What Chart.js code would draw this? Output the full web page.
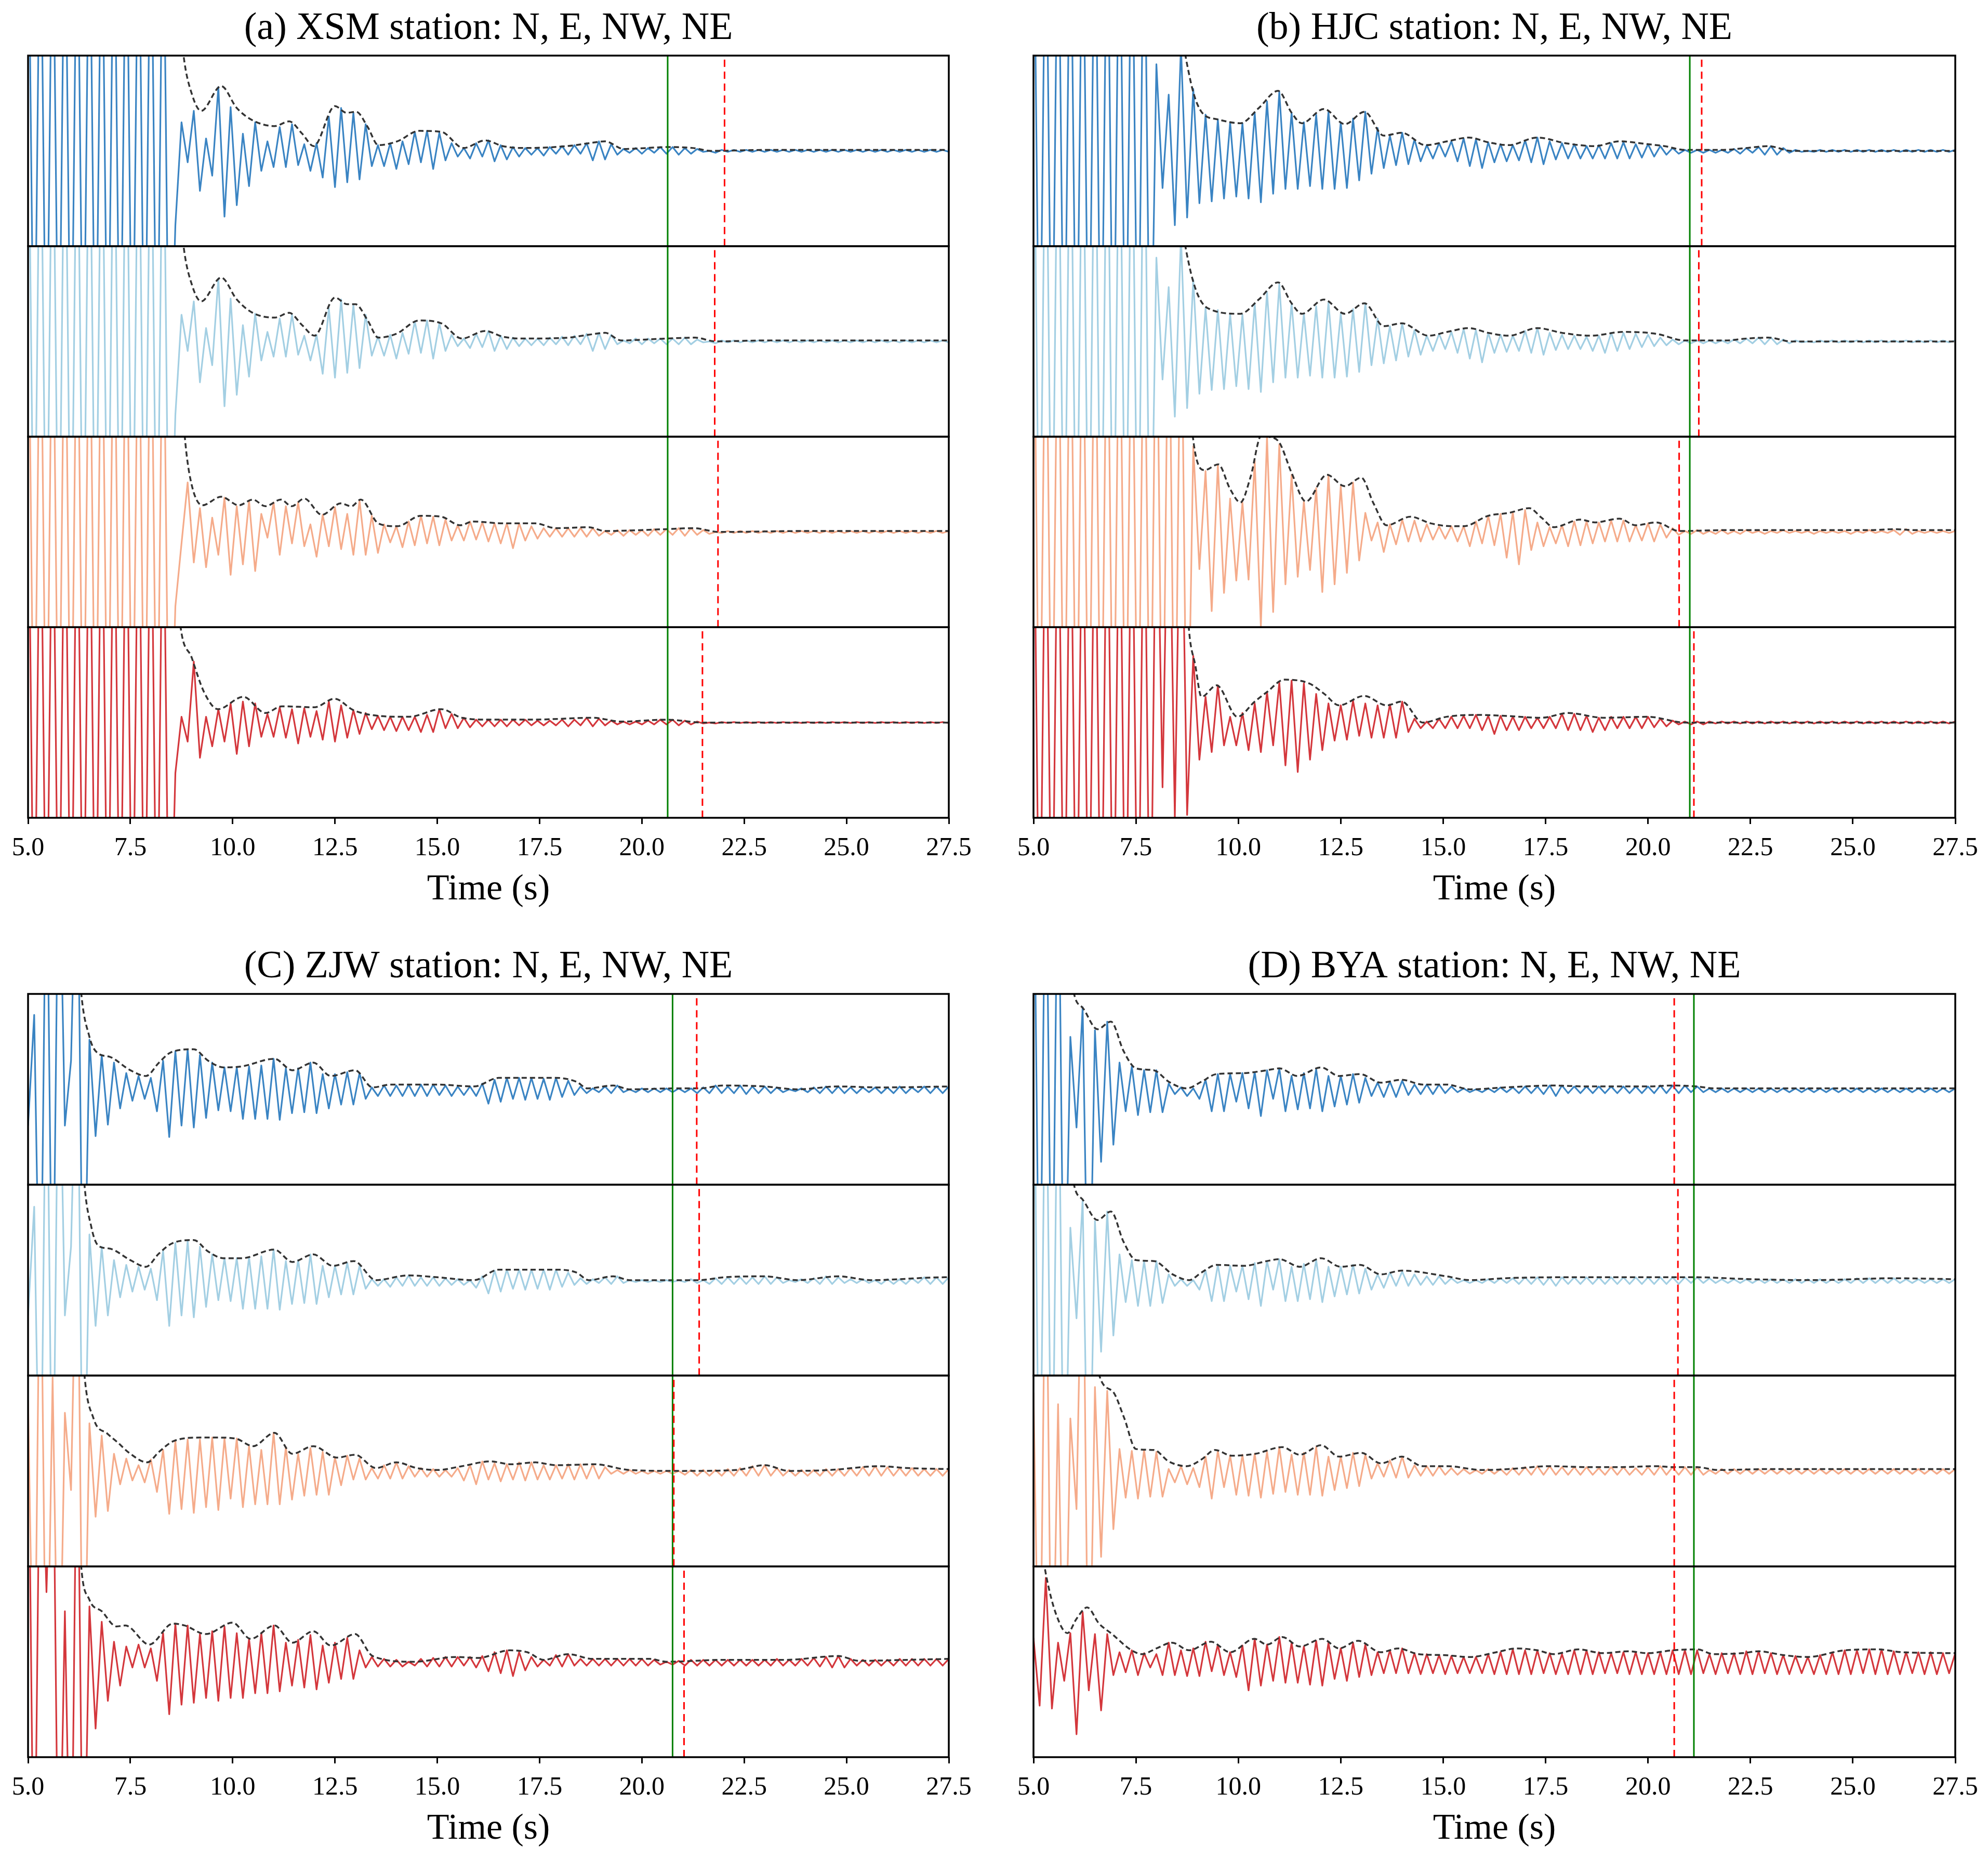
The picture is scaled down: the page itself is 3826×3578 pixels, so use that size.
<!DOCTYPE html>
<html>
<head>
<meta charset="utf-8">
<script src="https://cdn.jsdelivr.net/npm/chart.js@4.4.1/dist/chart.umd.min.js"></script>
<style>
  html, body { margin: 0; padding: 0; background: #fff; }
  #wrap { position: relative; width: 3826px; height: 3578px; }
  .panel { position: absolute; width: 1913px; height: 1789px; }
</style>
</head>
<body>
<div id="wrap">
  <div class="panel" style="left:0;top:0"><canvas id="pa" width="1913" height="1789"></canvas></div>
  <div class="panel" style="left:1913px;top:0"><canvas id="pb" width="1913" height="1789"></canvas></div>
  <div class="panel" style="left:0;top:1789px"><canvas id="pc" width="1913" height="1789"></canvas></div>
  <div class="panel" style="left:1913px;top:1789px"><canvas id="pd" width="1913" height="1789"></canvas></div>
</div>
<script>
// waveforms: one value per 0.15 s starting at 5.0 s, in % of half the trace height
const T0 = 5.0;
const STEP = 0.15;
const xTicks = [5.0, 7.5, 10.0, 12.5, 15.0, 17.5, 20.0, 22.5, 25.0, 27.5];

// (a) XSM
const xsmN = [
  300,-300,300,-300,300,-300,300,-300,300,-300,
  300,-300,300,-300,300,-300,300,-300,300,-300,
  300,-300,300,-300,-78,30,-12,42,-42,13,
  -26,67,-69,46,-57,18,-37,30,-21,10,
  -17,25,-17,28,-15,7,-21,8,-28,36,
  -38,45,-33,40,-30,28,-16,6,-16,8,
  -19,10,-14,20,-12,21,-19,19,-10,8,
  -6,3,-8,8,-6,11,-11,6,-9,4,
  -6,3,-4,3,-5,4,-3,5,-4,6,
  -3,8,-10,10,-9,7,-4,2,-2,3,
  -3,3,-2,4,-3,4,-4,3,-3,2,
  -1,0,-2,1,-1,1,-1,1,-1,1,
  -1,1,-1,1,-1,1,-1,1,-1,1,
  -1,1,-1,1,-1,1,-1,1,-1,1,
  -1,1,-1,1,-1,1,-1,1,-1,1,
  -1
];
const xsmE = [
  300,-300,300,-300,300,-300,300,-300,300,-300,
  300,-300,300,-300,300,-300,300,-300,300,-300,
  300,-300,300,-300,-77,28,-10,42,-43,14,
  -25,66,-68,45,-56,17,-37,29,-20,10,
  -16,24,-16,28,-14,6,-20,7,-34,35,
  -38,44,-33,38,-28,28,-15,5,-15,7,
  -18,9,-13,21,-12,22,-18,19,-10,7,
  -5,3,-7,8,-6,11,-10,6,-8,4,
  -5,3,-4,3,-4,4,-3,5,-4,6,
  -3,8,-10,9,-8,7,-3,1,-2,3,
  -3,3,-2,3,-3,3,-3,4,-3,2,
  -1,0,-2,1,-1,1,-1,1,-1,1,
  -1,1,-1,1,-1,1,-1,1,-1,1,
  -1,1,-1,1,-1,1,-1,1,-1,1,
  -1,1,-1,1,-1,1,-1,1,-1,1,
  -1
];
const xsmNW = [
  300,-300,300,-300,300,-300,300,-300,300,-300,
  300,-300,300,-300,300,-300,300,-300,300,-300,
  300,-300,300,-300,-78,-12,52,-32,25,-37,
  15,-24,36,-45,27,-34,33,-41,19,-6,
  31,-24,27,-12,31,-15,8,-26,18,-15,
  26,-18,19,-24,33,-24,17,-22,8,-11,
  6,-16,11,-14,17,-12,16,-14,13,-9,
  7,-9,11,-8,10,-10,9,-12,9,-17,
  9,-9,6,-7,4,-5,4,-5,4,-5,
  4,-5,4,-4,1,-3,2,-4,2,-3,
  2,-4,3,-3,3,-3,4,-4,4,-3,
  2,-2,0,-1,1,-1,1,-1,1,-1,
  1,-1,1,-1,1,-1,1,-1,1,-1,
  1,-1,1,-1,1,-1,1,-1,1,-1,
  1,-1,1,-1,1,-1,1,-1,1,-1,
  1
];
const xsmNE = [
  300,-300,300,-300,300,-300,300,-300,300,-300,
  300,-300,300,-300,300,-300,300,-300,300,-300,
  300,-300,300,-300,-53,6,-20,64,-37,6,
  -25,14,-20,20,-33,22,-25,20,-15,9,
  -15,16,-16,14,-22,15,-15,12,-18,22,
  -20,18,-16,13,-12,10,-7,7,-8,6,
  -9,6,-8,6,-10,8,-10,14,-6,9,
  -6,5,-5,3,-4,3,-4,3,-4,3,
  -3,3,-3,2,-3,2,-3,3,-4,3,
  -3,5,-4,4,-3,2,-2,1,-2,1,
  -2,2,-2,3,-2,3,-3,2,-2,1,
  -1,0,-1,0.5,-0.5,0.5,-0.5,0.5,-0.5,0.5,
  -0.5,0.5,-0.5,0.5,-0.5,0.5,-0.5,0.5,-0.5,0.5,
  -0.5,0.5,-0.5,0.5,-0.5,0.5,-0.5,0.5,-0.5,0.5,
  -0.5,0.5,-0.5,0.5,-0.5,0.5,-0.5,0.5,-0.5,0.5,
  -0.5
];

// (b) HJC
const hjcN = [
  300,-300,300,-300,300,-300,300,-300,300,-300,
  300,-300,300,-300,300,-300,300,-300,300,-300,
  91,-39,59,-78,110,-70,65,-55,38,-53,
  33,-50,30,-48,29,-50,40,-54,52,-45,
  62,-40,40,-40,30,-37,38,-40,41,-40,
  30,-39,34,-31,41,-24,24,-18,16,-15,
  19,-14,12,-11,6,-8,8,-6,10,-11,
  13,-16,12,-18,9,-12,7,-11,6,-10,
  11,-12,14,-14,10,-9,8,-8,7,-8,
  5,-8,6,-8,8,-8,9,-8,7,-7,
  7,-6,5,-4,3,-3,1,-2,1,-2,
  1,-2,1,-2,2,-3,3,-2,4,-4,
  5,-4,3,-2,1,-1,0,-1,1,-1,
  1,-1,1,-1,1,-1,1,-1,1,-1,
  1,-1,1,-1,1,-1,1,-1,1,-1,
  1
];
const hjcE = [
  300,-300,300,-300,300,-300,300,-300,300,-300,
  300,-300,300,-300,300,-300,300,-300,300,-300,
  88,-40,57,-79,110,-70,65,-55,35,-51,
  33,-50,29,-47,28,-50,40,-53,52,-43,
  60,-38,40,-38,29,-36,37,-38,41,-38,
  29,-37,34,-32,40,-25,24,-23,16,-20,
  19,-16,12,-14,6,-10,8,-8,10,-12,
  13,-18,12,-22,9,-12,7,-11,6,-10,
  11,-12,14,-14,9,-9,7,-8,6,-8,
  5,-10,6,-12,9,-10,9,-8,8,-6,
  7,-5,4,-4,2,-3,1,-2,1,-2,
  1,-2,1,-2,2,-2,3,-2,4,-3,
  4,-3,2,-2,1,-1,0,-1,1,-1,
  1,-1,1,-1,1,-1,1,-1,1,-1,
  1,-1,1,-1,1,-1,1,-1,1,-1,
  1
];
const hjcNW = [
  300,-300,300,-300,300,-300,300,-300,300,-300,
  300,-300,300,-300,300,-300,300,-300,300,-300,
  300,-300,300,-300,300,-300,90,-39,64,-83,
  71,-64,35,-51,31,-50,75,-99,100,-84,
  92,-55,60,-47,32,-40,46,-63,60,-55,
  48,-43,52,-30,20,-9,10,-21,8,-13,
  13,-10,12,-10,8,-8,6,-7,6,-10,
  6,-15,11,-12,17,-14,19,-27,21,-34,
  23,-19,10,-15,5,-12,7,-15,11,-14,
  11,-12,10,-10,12,-10,12,-10,7,-9,
  9,-10,8,-6,4,-3,1,-2,2,-2,
  1,-2,2,-2,1,-2,2,-1,1,-2,
  1,-1,2,-1,1,-1,1,-2,1,-1,
  1,-1,1,-2,1,-1,2,-1,1,-1,
  2,-3,3,-2,1,-1,1,-1,1,-1,
  1
];
const hjcNE = [
  300,-300,300,-300,300,-300,300,-300,300,-300,
  300,-300,300,-300,300,-300,300,-300,300,-300,
  300,-68,300,-100,300,-97,70,-39,27,-31,
  39,-24,6,-24,10,-29,20,-31,32,-24,
  42,-45,44,-52,41,-39,30,-29,20,-19,
  18,-18,23,-14,20,-16,18,-16,19,-16,
  22,-10,4,-6,1,-6,4,-6,6,-6,
  7,-6,8,-8,7,-12,7,-8,6,-8,
  6,-6,5,-6,6,-6,9,-8,9,-8,
  7,-10,5,-8,6,-6,6,-6,6,-6,
  6,-5,4,-4,2,-2,1,-2,1,-2,
  1,-1,1,-1,1,-1,1,-1,1,-1,
  1,-1,1,-1,1,-1,1,-1,1,-1,
  1,-1,1,-1,1,-1,1,-1,1,-1,
  1,-1,1,-1,1,-1,1,-1,1,-1,
  1
];

// (C) ZJW
const zjwN = [
  -38,78,-300,300,-300,300,-38,30,300,-300,
  52,-49,36,-37,28,-20,17,-12,14,-10,
  12,-23,30,-50,40,-38,42,-40,36,-30,
  28,-22,23,-23,23,-31,24,-31,25,-31,
  32,-32,22,-25,22,-24,28,-25,16,-20,
  16,-16,18,-16,17,-10,2,-7,4,-7,
  4,-7,5,-7,5,-7,5,-6,4,-7,
  3,-6,3,-7,6,-15,10,-13,12,-10,
  12,-11,12,-10,11,-11,12,-8,9,-6,
  3,-4,1,-3,3,-4,4,-3,0,-3,
  1,-3,1,-3,1,-3,1,-3,1,-4,
  2,-4,4,-4,3,-4,4,-5,3,-4,
  3,-4,2,-3,0,-2,1,-3,2,-4,
  3,-4,3,-4,2,-4,2,-3,2,-4,
  2,-4,3,-4,2,-3,3,-4,3,-4,
  3
];
const zjwE = [
  -37,77,-300,300,-300,300,-37,35,300,-300,
  48,-48,35,-37,21,-18,16,-12,14,-10,
  12,-21,31,-48,39,-37,41,-39,35,-28,
  27,-21,23,-22,23,-30,24,-30,25,-30,
  32,-31,20,-25,21,-24,27,-25,15,-18,
  15,-15,18,-15,15,-9,1,-6,1,-7,
  3,-6,5,-6,3,-6,3,-6,2,-5,
  1,-5,0,-8,4,-14,10,-12,11,-9,
  11,-10,11,-9,11,-10,11,-7,8,-5,
  2,-4,1,-3,3,-4,4,-3,0,-2,
  0,-2,0,-2,0,-2,0,-2,1,-3,
  0,-4,2,-4,3,-4,3,-4,3,-4,
  4,-4,3,-3,0,-2,1,-3,2,-4,
  4,-4,3,-3,1,-3,1,-3,0,-4,
  1,-4,1,-4,2,-3,3,-4,3,-4,
  3
];
const zjwNW = [
  74,-300,300,-300,98,-300,61,-20,300,-300,
  50,-48,37,-42,18,-14,13,-10,6,-12,
  12,-22,22,-45,31,-40,33,-44,33,-38,
  35,-41,34,-29,34,-38,26,-35,22,-35,
  40,-35,25,-30,18,-26,24,-25,20,-25,
  14,-15,16,-9,13,-9,3,-8,6,-8,
  9,-8,5,-6,3,-6,2,-6,1,-6,
  3,-10,6,-14,10,-9,8,-11,7,-9,
  9,-10,9,-9,6,-9,6,-8,7,-9,
  7,-8,7,-8,4,-3,1,-3,1,-3,
  0,-3,0,-3,0,-3,0,-4,1,-5,
  1,-5,1,-5,2,-5,3,-5,5,-5,
  6,-5,3,-5,1,-5,1,-5,1,-5,
  2,-5,2,-5,3,-5,4,-5,5,-5,
  4,-5,3,-5,3,-5,2,-5,2,-5,
  2
];
const zjwNE = [
  300,-300,300,73,300,-300,53,-300,300,-300,
  58,-70,42,-41,21,-25,16,-6,18,-6,
  14,-20,30,-55,40,-45,38,-43,29,-38,
  32,-41,37,-38,30,-38,24,-33,30,-33,
  38,-31,20,-25,23,-27,28,-29,17,-22,
  20,-18,25,-18,12,-6,5,-5,3,-5,
  2,-5,0,-4,3,-5,4,-5,5,-5,
  5,-4,5,-6,6,-10,10,-12,12,-15,
  10,-9,5,-5,2,-4,7,-5,8,-4,
  3,-4,3,-4,3,-4,3,-4,3,-4,
  3,-4,2,-3,0,-3,1,-4,2,-4,
  2,-4,2,-4,2,-4,2,-4,2,-4,
  2,-4,3,-4,2,-4,3,-4,4,-5,
  5,-6,6,-6,3,-4,2,-4,2,-4,
  2,-4,3,-4,3,-4,3,-4,3,-4,
  3
];

// (D) BYA
const byaN = [
  300,-300,300,-300,300,-300,55,-40,86,-300,
  62,-76,71,-58,28,-23,24,-27,20,-24,
  20,-24,6,-5,2,-7,1,-10,10,-23,
  16,-23,16,-13,17,-20,18,-28,20,-10,
  22,-23,14,-21,17,-20,21,-23,14,-18,
  14,-16,16,-14,12,-7,7,-8,8,-8,
  9,-6,5,-5,5,-5,5,-4,3,-3,
  1,-3,0,-3,1,-3,2,-3,2,-4,
  3,-4,3,-5,4,-7,4,-4,3,-4,
  3,-4,3,-4,3,-4,3,-4,3,-4,
  3,-4,4,-4,4,-4,4,-3,3,-3,
  1,-3,1,-3,1,-3,1,-3,1,-3,
  1,-3,1,-3,1,-3,1,-3,1,-3,
  1,-3,1,-3,1,-3,1,-3,1,-3,
  1,-3,1,-3,1,-3,1,-3,1,-3,
  1
];
const byaE = [
  300,-300,300,-300,300,-300,55,-40,85,-300,
  62,-75,72,-58,27,-23,21,-27,20,-27,
  20,-24,6,-6,1,-6,0,-10,10,-22,
  16,-22,15,-12,15,-20,18,-27,20,-10,
  22,-22,14,-22,17,-20,21,-23,14,-17,
  14,-15,16,-14,12,-10,6,-8,8,-6,
  9,-6,6,-5,4,-5,4,-4,2,-3,
  0,-3,0,-3,1,-3,2,-3,2,-4,
  3,-4,3,-5,3,-6,3,-4,3,-4,
  3,-4,3,-4,3,-4,3,-4,3,-4,
  3,-4,3,-4,3,-4,3,-3,3,-3,
  2,-3,1,-3,1,-3,1,-3,1,-3,
  1,-3,1,-3,1,-3,1,-3,1,-3,
  1,-3,1,-3,2,-3,2,-3,2,-3,
  2,-3,1,-3,1,-3,1,-3,1,-3,
  1
];
const byaNW = [
  82,-300,300,-300,70,-300,55,-40,300,-300,
  88,-90,84,-61,23,-28,21,-29,22,-27,
  20,-27,2,-12,5,-14,3,-17,15,-29,
  21,-17,16,-25,17,-26,18,-28,20,-24,
  25,-22,17,-25,19,-25,25,-26,15,-20,
  15,-18,19,-16,17,-8,8,-6,11,-7,
  15,-7,6,-5,5,-5,5,-4,3,-4,
  2,-3,1,-3,2,-3,2,-4,3,-4,
  4,-4,5,-4,5,-4,4,-4,4,-4,
  4,-4,3,-4,4,-4,4,-4,3,-4,
  4,-4,5,-4,4,-4,4,-4,4,-4,
  1,-3,2,-3,2,-3,2,-3,2,-3,
  2,-3,2,-3,2,-3,2,-3,2,-3,
  2,-3,2,-3,2,-3,2,-3,2,-3,
  2,-3,2,-3,2,-3,2,-3,2,-3,
  2
];
const byaNE = [
  25,-46,88,-49,20,-20,30,-76,52,-30,
  29,-51,29,-14,10,-11,12,-14,9,-6,
  8,-14,20,-14,12,-15,14,-15,21,-10,
  18,-14,10,-16,17,-30,24,-25,18,-20,
  26,-22,20,-22,16,-24,22,-25,20,-18,
  14,-20,20,-16,18,-14,10,-12,12,-12,
  14,-12,9,-13,8,-12,7,-13,6,-12,
  5,-12,5,-12,8,-13,10,-13,13,-13,
  12,-13,12,-12,9,-13,8,-13,12,-13,
  12,-13,10,-12,9,-12,10,-13,10,-13,
  9,-13,10,-13,12,-13,12,-13,12,-12,
  8,-13,9,-12,9,-13,11,-13,11,-12,
  9,-13,7,-13,6,-12,5,-13,7,-13,
  10,-13,12,-13,12,-12,13,-13,13,-13,
  11,-13,10,-12,10,-13,10,-13,9,-12,
  9
];

// envelopes: [time s, %]
const envXsmN = [[8.55,220],[8.8,100],[9.0,60],[9.23,42],[9.72,68],[10.1,45],[10.49,32],[11.03,26],[11.38,31],[11.7,18],[11.98,5],[12.5,47],[12.78,40],[13.02,41],[13.3,25],[13.56,6],[14.02,10],[14.56,21],[15.1,20],[15.64,3],[16.17,11],[16.6,5],[17.1,3],[18.17,5],[18.7,8],[19.1,10],[19.56,2],[20.1,3],[20.63,4],[21.25,3],[21.7,0],[23,1],[25,1],[27.5,1]];
const envXsmE = [[8.55,220],[8.8,100],[9.0,60],[9.23,42],[9.72,67],[10.1,44],[10.49,30],[11.03,25],[11.38,30],[11.7,17],[12.0,6],[12.5,46],[12.8,39],[13.0,39],[13.3,22],[13.56,4],[14.0,8],[14.56,22],[15.1,19],[15.6,3],[16.17,11],[16.6,5],[17.1,3],[18.2,4],[18.7,7],[19.1,9],[19.5,1],[20.1,2],[20.6,3],[21.3,4],[21.8,0],[23,1],[25,1],[27.5,1]];
const envXsmNW = [[8.6,250],[8.83,100],[8.97,55],[9.26,28],[9.72,37],[10.15,28],[10.49,34],[10.8,27],[11.18,34],[11.44,27],[11.75,35],[12.18,18],[12.64,30],[12.9,27],[13.13,34],[13.56,9],[14.02,6],[14.6,17],[15.1,16],[15.56,7],[15.87,11],[16.6,9],[17.4,9],[17.9,4],[18.7,5],[19.1,1],[20.0,2],[20.6,3],[21.25,4],[21.9,0],[24,1],[27.5,1]];
const envXsmNE = [[8.5,250],[8.7,110],[9.0,68],[9.3,32],[9.64,14],[10.26,27],[10.8,10],[11.2,17],[12.0,16],[12.49,25],[12.95,13],[13.56,7],[14.3,6],[15.1,14],[15.6,5],[16.3,3],[17.3,3],[18.8,5],[19.5,1],[20.6,3],[21.5,0],[27.5,0]];

const envHjcN = [[8.45,250],[8.6,140],[8.8,80],[9.1,41],[9.5,33],[10.05,29],[10.5,45],[10.97,63],[11.3,40],[11.55,29],[12.09,44],[12.6,28],[13.08,41],[13.55,16],[13.99,19],[14.57,6],[15.1,10],[15.63,14],[16.1,9],[16.6,6],[17.3,14],[17.99,8],[18.7,5],[19.3,10],[20.0,7],[20.4,5],[20.9,1],[21.8,1],[22.4,3],[22.94,5],[23.5,0],[27.5,0]];
const envHjcE = [[8.45,250],[8.6,140],[8.8,80],[9.25,35],[10.05,29],[10.5,44],[10.97,62],[11.3,40],[11.55,29],[12.09,44],[12.6,29],[13.08,40],[13.55,16],[13.99,19],[14.64,6],[15.1,10],[15.63,14],[16.1,9],[16.6,6],[17.3,14],[17.9,9],[18.6,6],[19.4,10],[20.2,8],[20.9,1],[21.9,1],[22.4,3],[22.94,4],[23.5,0],[27.5,0]];
const envHjcNW = [[8.75,250],[8.89,100],[9.18,65],[9.51,71],[9.8,45],[10.05,31],[10.3,58],[10.56,101],[10.75,100],[11.0,94],[11.3,62],[11.65,32],[12.16,60],[12.6,48],[13.0,57],[13.3,30],[13.62,7],[14.2,16],[14.7,9],[15.22,6],[15.5,6],[16.1,17],[16.6,20],[17.1,25],[17.4,15],[17.7,5],[18.35,13],[18.7,10],[19.3,14],[19.7,7],[20.2,10],[20.76,1],[22,2],[24,2],[25.5,2],[26.0,3],[26.5,2],[27.5,2]];
const envHjcNE = [[8.6,250],[8.79,100],[8.95,60],[9.1,27],[9.47,39],[9.98,6],[10.4,22],[10.7,32],[11.12,45],[11.73,41],[12.1,30],[12.46,18],[13.07,28],[13.62,18],[13.99,22],[14.5,0],[15.08,6],[15.8,8],[16.5,7],[17.4,5],[18.06,10],[18.9,5],[20.0,6],[20.9,0],[27.5,0]];

const envZjwN = [[6.1,250],[6.28,110],[6.5,55],[6.7,38],[7.0,34],[7.5,20],[7.88,14],[8.2,28],[8.5,39],[9.05,42],[9.4,30],[9.78,23],[10.22,24],[11.02,32],[11.46,20],[11.97,28],[12.4,14],[12.99,20],[13.42,2],[13.86,5],[15.0,5],[15.9,3],[16.5,12],[17.9,12],[18.4,8],[18.67,1],[19.3,4],[19.7,0],[20.8,1],[21.4,1],[22.0,4],[23.0,3],[23.8,0],[24.8,3],[25.8,2],[27.5,3]];
const envZjwE = [[6.2,250],[6.36,110],[6.55,55],[6.72,36],[7.0,33],[7.5,21],[7.88,14],[8.2,28],[8.54,39],[9.05,42],[9.4,30],[9.78,23],[10.22,23],[11.02,32],[11.46,19],[11.97,27],[12.45,15],[12.96,20],[13.5,0],[14.3,5],[15.0,3],[15.9,0],[16.5,11],[17.9,11],[18.4,8],[18.7,0],[19.3,4],[19.7,0],[21.4,0],[22.0,3],[23.0,4],[23.8,0],[24.8,4],[25.6,0],[27.4,3],[27.5,3]];
const envZjwNW = [[6.2,250],[6.36,110],[6.6,55],[6.94,39],[7.16,31],[7.5,18],[7.91,9],[8.2,20],[8.54,31],[9.2,35],[9.6,35],[10.07,34],[10.5,26],[11.02,40],[11.46,18],[11.97,26],[12.55,14],[12.99,17],[13.5,3],[14.0,9],[14.5,3],[15.0,1],[15.6,5],[16.3,10],[16.8,7],[17.4,9],[17.9,6],[18.85,7],[19.7,1],[21,0],[22.3,1],[23.0,6],[23.6,0],[24.6,1],[25.8,5],[26.5,3],[27.5,2]];
const envZjwNE = [[6.15,250],[6.28,110],[6.5,65],[6.8,53],[7.16,37],[7.38,38],[7.96,18],[8.54,40],[8.83,38],[9.34,29],[10.0,41],[10.44,24],[11.02,38],[11.46,20],[11.97,32],[12.4,17],[12.99,29],[13.42,6],[14.44,0],[15.45,5],[16.0,4],[16.77,12],[17.2,10],[17.6,2],[18.2,8],[18.8,3],[20.2,3],[20.6,0],[22.0,2],[23.5,2],[24.8,6],[25.3,1],[26.5,2],[27.5,3]];

const envByaN = [[5.8,250],[5.95,110],[6.19,86],[6.56,63],[6.89,71],[7.2,40],[7.5,22],[7.94,20],[8.3,8],[8.74,1],[9.1,8],[9.47,16],[10.13,17],[10.7,20],[11.0,22],[11.44,14],[12.02,23],[12.46,14],[12.97,16],[13.48,7],[13.99,10],[14.5,5],[15.08,5],[15.66,0],[16.5,2],[17.7,4],[18.5,3],[20.0,3],[20.6,4],[21.2,3],[21.6,1],[27.5,1]];
const envByaE = [[5.8,250],[5.95,110],[6.19,85],[6.56,63],[6.89,72],[7.2,40],[7.5,21],[7.94,20],[8.4,6],[8.8,0],[9.1,8],[9.47,16],[10.13,15],[10.7,20],[11.0,22],[11.5,14],[12.02,23],[12.5,14],[12.97,16],[13.48,6],[13.99,10],[15.08,4],[15.66,0],[16.5,2],[17.7,3],[20.6,3],[21.2,3],[22.5,1],[24,0],[26,2],[27.5,1]];
const envByaNW = [[6.4,250],[6.55,110],[6.92,84],[7.21,56],[7.5,23],[7.94,22],[8.3,10],[8.74,5],[9.1,12],[9.43,22],[9.84,16],[10.42,18],[11.07,25],[11.5,17],[12.02,27],[12.46,15],[13.0,19],[13.48,8],[13.99,15],[14.5,5],[15.1,5],[15.95,1],[16.6,2],[17.6,5],[18.6,4],[19.3,4],[20.2,5],[20.6,4],[21.2,4],[21.7,1],[23,2],[27.5,2]];
const envByaNE = [[5.12,140],[5.32,88],[5.55,50],[5.83,30],[6.05,45],[6.31,57],[6.6,40],[6.92,29],[7.36,13],[7.65,8],[8.0,14],[8.38,20],[8.8,12],[9.33,21],[9.8,10],[10.39,24],[10.7,18],[11.07,26],[11.5,16],[12.05,24],[12.46,14],[12.92,22],[13.48,10],[13.9,14],[14.4,8],[15.0,7],[15.66,5],[16.3,10],[16.8,14],[17.3,12],[17.7,8],[18.3,13],[18.9,9],[19.5,11],[20.0,9],[20.6,12],[21.2,13],[21.6,8],[22.3,9],[22.7,11],[23.3,7],[23.9,5],[24.8,12],[25.6,13],[26.2,10],[27.5,9]];

// picked times (s): green is common to a station, red per component N, E, NW, NE
const greenTimes = [20.63, 21.02, 20.75, 21.12];
const redXsm = [22.02, 21.78, 21.86, 21.48];
const redHjc = [21.31, 21.24, 20.76, 21.12];
const redZjw = [21.34, 21.40, 20.78, 21.03];
const redBya = [20.64, 20.73, 20.64, 20.64];

const SERIF = "'Liberation Serif', 'Times New Roman', serif";
const AXES = ['yN', 'yE', 'yNW', 'yNE'];
const COLORS = ['#3a84c3', '#a3cfe3', '#f5ab8a', '#d4373c'];

const framePlugin = {
  id: 'frames',
  afterDatasetsDraw(chart) {
    const { ctx, chartArea } = chart;
    ctx.save();
    ctx.strokeStyle = '#000';
    ctx.lineWidth = 3.5;
    AXES.forEach(id => {
      const s = chart.scales[id];
      ctx.strokeRect(chartArea.left, s.top, chartArea.right - chartArea.left, s.bottom - s.top);
    });
    ctx.restore();
  }
};

function yScale() {
  return {
    type: 'linear', position: 'left', stack: 'traces', stackWeight: 1,
    min: -100, max: 100, offset: false,
    ticks: { display: false },
    grid: { display: false, drawTicks: false },
    border: { display: false },
    afterFit(s) { s.width = 0; }
  };
}

function buildDatasets(traces, envs, reds, green) {
  const sets = [];
  traces.forEach((vals, k) => {
    const axis = AXES[k];
    sets.push({
      data: [{ x: reds[k], y: -100 }, { x: reds[k], y: 100 }],
      yAxisID: axis, borderColor: '#ff0000', borderWidth: 3, borderDash: [14, 9],
      pointRadius: 0, clip: 0, order: 1
    });
    sets.push({
      data: [{ x: green, y: -100 }, { x: green, y: 100 }],
      yAxisID: axis, borderColor: '#008000', borderWidth: 3,
      pointRadius: 0, clip: 0, order: 2
    });
    sets.push({
      data: envs[k].map(([x, y]) => ({ x, y })),
      yAxisID: axis, borderColor: '#333333', borderWidth: 3.5, borderDash: [10, 6],
      cubicInterpolationMode: 'monotone', pointRadius: 0, clip: 0, order: 3
    });
    sets.push({
      data: vals.map((v, i) => ({ x: T0 + i * STEP, y: v })),
      yAxisID: axis, borderColor: COLORS[k], borderWidth: 3.2, borderJoinStyle: 'round',
      pointRadius: 0, tension: 0, clip: 0, order: 4
    });
  });
  return sets;
}

const panels = [
  { id: 'pa', title: '(a) XSM station: N, E, NW, NE', traces: [xsmN, xsmE, xsmNW, xsmNE],
    envs: [envXsmN, envXsmE, envXsmNW, envXsmNE], reds: redXsm, green: greenTimes[0],
    padL: 54, padR: 87, titleTop: 19, titleBottom: 14, axisH: 215, labelPad: 41 },
  { id: 'pb', title: '(b) HJC station: N, E, NW, NE', traces: [hjcN, hjcE, hjcNW, hjcNE],
    envs: [envHjcN, envHjcE, envHjcNW, envHjcNE], reds: redHjc, green: greenTimes[1],
    padL: 76, padR: 63, titleTop: 19, titleBottom: 14, axisH: 215, labelPad: 41 },
  { id: 'pc', title: '(C) ZJW station: N, E, NW, NE', traces: [zjwN, zjwE, zjwNW, zjwNE],
    envs: [envZjwN, envZjwE, envZjwNW, envZjwNE], reds: redZjw, green: greenTimes[2],
    padL: 54, padR: 87, titleTop: 36, titleBottom: 14, axisH: 196, labelPad: 22 },
  { id: 'pd', title: '(D) BYA station: N, E, NW, NE', traces: [byaN, byaE, byaNW, byaNE],
    envs: [envByaN, envByaE, envByaNW, envByaNE], reds: redBya, green: greenTimes[3],
    padL: 76, padR: 63, titleTop: 36, titleBottom: 14, axisH: 196, labelPad: 22 }
];

panels.forEach(p => {
  new Chart(document.getElementById(p.id), {
    type: 'line',
    data: { datasets: buildDatasets(p.traces, p.envs, p.reds, p.green) },
    options: {
      responsive: false,
      animation: false,
      events: [],
      layout: { padding: { left: p.padL, right: p.padR, top: 0, bottom: 0 } },
      plugins: {
        legend: { display: false },
        tooltip: { enabled: false },
        title: {
          display: true, text: p.title, fullSize: false, color: '#000',
          font: { family: SERIF, size: 74, weight: 'normal', lineHeight: 1 },
          padding: { top: p.titleTop, bottom: p.titleBottom }
        }
      },
      scales: {
        x: {
          type: 'linear', position: 'bottom', min: 5, max: 27.5,
          afterBuildTicks(s) { s.ticks = xTicks.map(v => ({ value: v })); },
          afterFit(s) { s.height = p.axisH; },
          ticks: {
            autoSkip: false, maxRotation: 0, color: '#000', padding: 17,
            font: { family: SERIF, size: 50 },
            callback: v => Number(v).toFixed(1)
          },
          grid: { display: true, drawOnChartArea: false, drawTicks: true, tickLength: 12, tickWidth: 3, tickColor: '#000' },
          border: { display: false },
          title: {
            display: true, text: 'Time (s)', color: '#000',
            font: { family: SERIF, size: 70, lineHeight: 1 },
            padding: { top: 0, bottom: p.labelPad }
          }
        },
        yNE: yScale(),
        yNW: yScale(),
        yE: yScale(),
        yN: yScale()
      }
    },
    plugins: [framePlugin]
  });
});
</script>
</body>
</html>
